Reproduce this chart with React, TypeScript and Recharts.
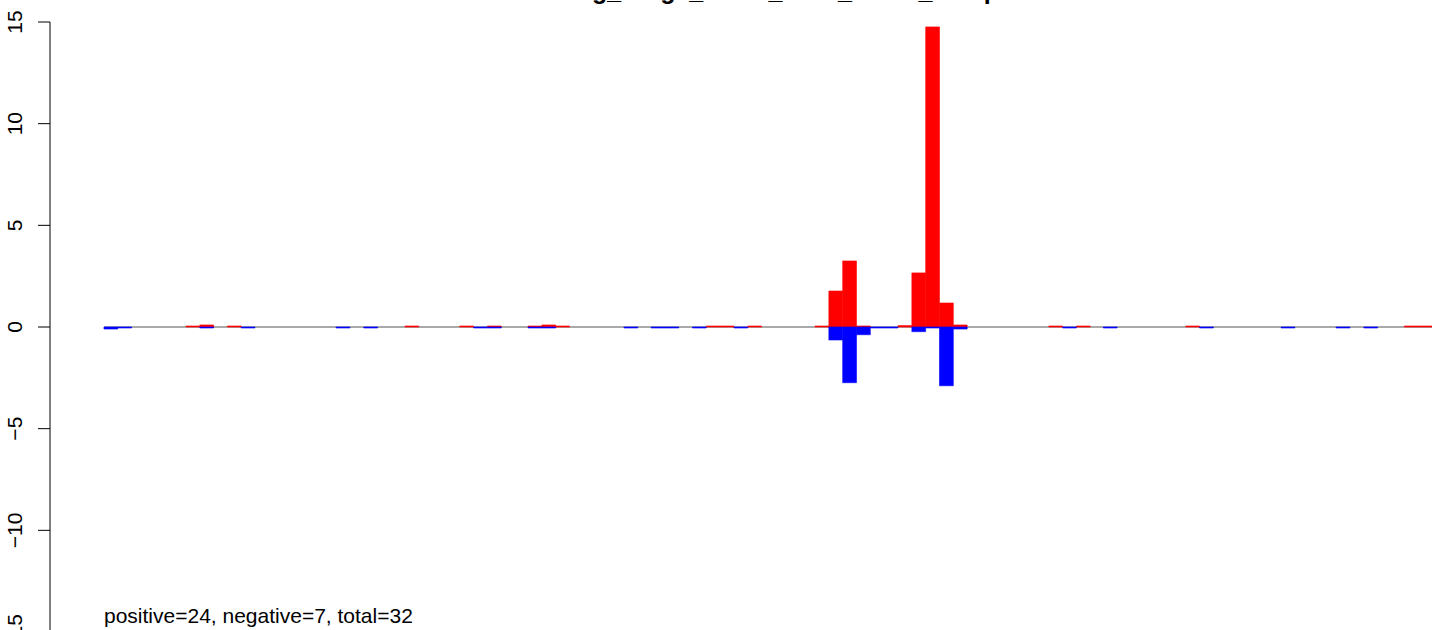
import React from 'react';
import { BarChart, Bar, XAxis, YAxis, ReferenceLine } from 'recharts';

// bar centre positions, in bar-width units along the x range [0, 96]
const positions = [
  0.5, 1.5, 6.43, 7.43, 9.42, 10.42, 17.28, 19.28, 22.26, 26.22, 27.22, 28.22,
  31.16, 32.16, 33.16, 38.09, 40.05, 41.05, 43.04, 44.04, 45.04, 46.04, 47.04,
  51.9, 52.9, 53.9, 54.9, 55.9, 56.9, 57.9, 58.9, 59.9, 60.9, 61.9,
  68.8, 69.8, 70.8, 72.74, 78.7, 79.7, 85.59, 89.57, 91.57, 94.5, 95.5,
];
const positiveValues = [
  0, 0, 0.05, 0.1, 0.05, 0, 0, 0, 0.05, 0.05, 0, 0.05,
  0.05, 0.1, 0.05, 0, 0, 0, 0, 0.05, 0.05, 0, 0.05,
  0.05, 1.77, 3.25, 0.05, 0, 0, 0.07, 2.66, 14.76, 1.18, 0.1,
  0.05, 0, 0.05, 0, 0.05, 0, 0, 0, 0, 0.05, 0.05,
];
const negativeValues = [
  -0.1, -0.05, 0, -0.05, 0, -0.05, -0.05, -0.05, 0, 0, -0.05, -0.05,
  -0.05, -0.05, 0, -0.05, -0.05, -0.05, -0.05, 0, 0, -0.05, 0,
  0, -0.64, -2.74, -0.38, -0.05, -0.05, 0, -0.23, -0.05, -2.89, -0.1,
  0, -0.05, 0, -0.05, 0, -0.05, -0.05, -0.05, -0.05, 0, 0,
];
const yTicks = [-15, -10, -5, 0, 5, 10, 15];
const xRange = [0, 96];
const titleText = 'Totlog_range_LIMIT_wins_KEPT_comp';
const summaryText = 'positive=24, negative=7, total=32';

const data = positions.map((x, i) => ({ x, pos: positiveValues[i], neg: negativeValues[i] }));

const FONT = '"Liberation Sans", Arial, Helvetica, sans-serif';

const fmt = (v: number) => (v < 0 ? '\u2212' + Math.abs(v) : String(v));

const YTick = (props: any) => {
  const { y, payload } = props;
  return (
    <text
      transform={`translate(22,${y}) rotate(-90)`}
      textAnchor="middle"
      fontSize={21}
      fontFamily={FONT}
      fill="#000"
    >
      {fmt(payload.value)}
    </text>
  );
};

export default function App() {
  return (
    <div
      style={{
        position: 'absolute',
        left: 0,
        top: 0,
        width: 1441,
        height: 630,
        overflow: 'hidden',
        background: '#fff',
      }}
    >
      <BarChart
        width={1441}
        height={640}
        data={data}
        margin={{ top: 22, right: 9, bottom: 8, left: 0 }}
        stackOffset="sign"
        barGap={0}
        barCategoryGap={0}
      >
        <XAxis type="number" dataKey="x" domain={[-3.9, 96]} hide allowDataOverflow />
        <YAxis
          type="number"
          domain={[-15, 15]}
          ticks={yTicks}
          width={50}
          tickSize={12}
          interval={0}
          allowDataOverflow
          tick={<YTick />}
          axisLine={{ stroke: '#000', strokeWidth: 1 }}
          tickLine={{ stroke: '#000', strokeWidth: 1 }}
        />
        <ReferenceLine
          segment={[
            { x: xRange[0], y: 0 },
            { x: xRange[1], y: 0 },
          ]}
          stroke="#555555"
          strokeWidth={1.2}
          zIndex={0}
        />
        <Bar
          dataKey="pos"
          stackId="s"
          fill="#ff0000"
          stroke="#ff0000"
          strokeWidth={0.6}
          barSize={13.8}
          isAnimationActive={false}
        />
        <Bar
          dataKey="neg"
          stackId="s"
          fill="#0000ff"
          stroke="#0000ff"
          strokeWidth={0.6}
          barSize={13.8}
          isAnimationActive={false}
        />
      </BarChart>
      <svg
        style={{ position: 'absolute', left: 0, top: 0, pointerEvents: 'none' }}
        width={1441}
        height={630}
      >
        <text x={766} y={-1} textAnchor="middle" fontSize={25} fontWeight="bold" fontFamily={FONT} fill="#000">
          {titleText}
        </text>
        <text x={104} y={623} fontSize={21} fontFamily={FONT} fill="#000">
          {summaryText}
        </text>
      </svg>
    </div>
  );
}
